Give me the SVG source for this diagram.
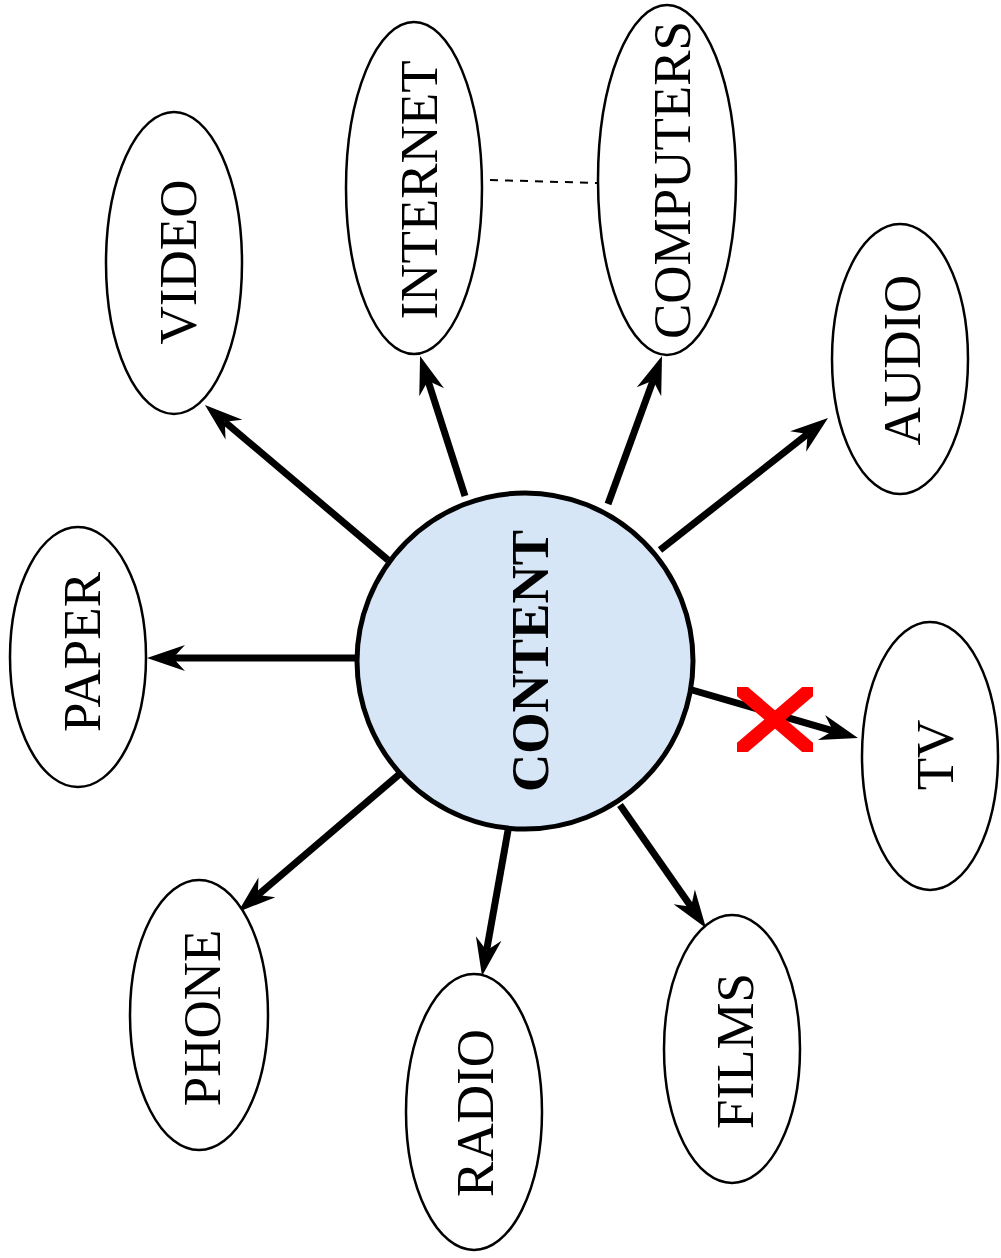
<svg xmlns="http://www.w3.org/2000/svg" width="1001" height="1258" viewBox="0 0 1001 1258">
<style>
.node ellipse{fill:#fff;stroke:#000;stroke-width:2.5}
.lbl{font-family:"Liberation Serif","Times New Roman",serif;font-size:53px;text-anchor:middle;fill:#000}
.conn line{stroke:#000;stroke-width:7;marker-end:url(#ah)}
</style>
<defs>
<marker id="ah" markerUnits="userSpaceOnUse" markerWidth="60" markerHeight="40" viewBox="-20 -20 60 40" refX="0" refY="0" orient="auto">
<path d="M26,0 L-12,-13 L0,0 L-12,13 Z" fill="#000"/>
</marker>
<clipPath id="xclip"><rect x="737" y="687" width="76" height="65"/></clipPath>
</defs>
<rect width="1001" height="1258" fill="#fff"/>
<g id="connectors" class="conn">
<line x1="358" y1="658" x2="173" y2="658"/>
<line x1="388" y1="560" x2="224.8" y2="421.8"/>
<line x1="465" y1="496" x2="428" y2="380.8"/>
<line x1="608" y1="504" x2="653.1" y2="380.4"/>
<line x1="660" y1="550" x2="807.6" y2="434.1"/>
<line x1="692" y1="690" x2="833" y2="730.8"/>
<line x1="620" y1="805" x2="691.1" y2="906.7"/>
<line x1="512" y1="808" x2="486.6" y2="950.4"/>
<line x1="402" y1="772" x2="257.8" y2="895.1"/>
<line x1="490" y1="180" x2="597" y2="183" style="stroke-width:2;stroke-dasharray:8 7;marker-end:none"/>
</g>
<g id="content">
<circle cx="525" cy="661" r="168" fill="#d6e6f6" stroke="#000" stroke-width="5"/>
<text class="lbl" x="548" y="661" transform="rotate(-90 548 661)" font-weight="bold">CONTENT</text>
</g>
<g id="paper" class="node"><ellipse cx="78" cy="657" rx="68" ry="130"/><text class="lbl" x="100" y="652" transform="rotate(-90 100 652)">PAPER</text></g>
<g id="video" class="node"><ellipse cx="174" cy="263" rx="68" ry="151"/><text class="lbl" x="196" y="262" transform="rotate(-90 196 262)">VIDEO</text></g>
<g id="internet" class="node"><ellipse cx="414" cy="188" rx="68" ry="166"/><text class="lbl" x="437" y="190" transform="rotate(-90 437 190)">INTERNET</text></g>
<g id="computers" class="node"><ellipse cx="667" cy="180" rx="69" ry="175"/><text class="lbl" x="690" y="180" transform="rotate(-90 690 180)">COMPUTERS</text></g>
<g id="audio" class="node"><ellipse cx="900" cy="359" rx="68" ry="135"/><text class="lbl" x="920" y="360" transform="rotate(-90 920 360)">AUDIO</text></g>
<g id="tv" class="node"><ellipse cx="930" cy="756" rx="68" ry="134"/><text class="lbl" x="953" y="755" transform="rotate(-90 953 755)">TV</text></g>
<g id="films" class="node"><ellipse cx="732" cy="1049" rx="68" ry="134"/><text class="lbl" x="753" y="1051" transform="rotate(-90 753 1051)">FILMS</text></g>
<g id="radio" class="node"><ellipse cx="474" cy="1112" rx="68" ry="138"/><text class="lbl" x="493" y="1113" transform="rotate(-90 493 1113)">RADIO</text></g>
<g id="phone" class="node"><ellipse cx="199" cy="1015" rx="69" ry="135"/><text class="lbl" x="220" y="1018" transform="rotate(-90 220 1018)">PHONE</text></g>
<g id="cross" clip-path="url(#xclip)" stroke="#ff0000" stroke-width="14">
<line x1="727" y1="678.4" x2="823" y2="760.6"/>
<line x1="823" y1="678.4" x2="727" y2="760.6"/>
</g>
</svg>
